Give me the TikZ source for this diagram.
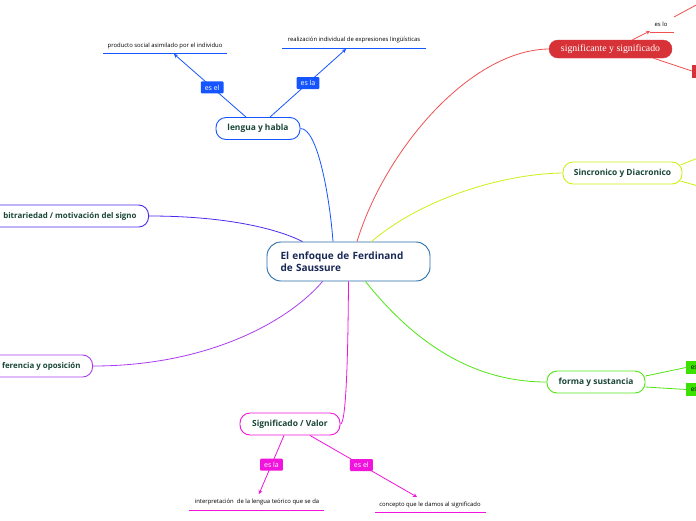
\documentclass[tikz,border=0pt]{standalone}
\usepackage{fontspec}
\setmainfont{Open Sans}
\newfontfamily\serifx{Liberation Serif}
\usetikzlibrary{arrows.meta,calc}
\definecolor{cblue}{RGB}{20,85,255}
\definecolor{cnavy}{RGB}{40,110,170}
\definecolor{ctext}{RGB}{25,70,55}
\definecolor{cnavytext}{RGB}{25,40,85}
\definecolor{cred}{RGB}{240,80,80}
\definecolor{credfill}{RGB}{215,50,55}
\definecolor{cyel}{RGB}{205,240,20}
\definecolor{cpurp}{RGB}{80,40,240}
\definecolor{cviol}{RGB}{170,60,240}
\definecolor{cgreen}{RGB}{80,230,20}
\definecolor{cgreenbox}{RGB}{60,225,0}
\definecolor{cmag}{RGB}{240,20,220}
\tikzset{
  topic/.style={draw, line width=0.9pt, rounded corners=10pt, fill=white, text=ctext,
    font=\bfseries\fontsize{8.4}{10}\selectfont, minimum height=22pt, inner xsep=6pt},
  lbl/.style={fill=#1, text=white, rounded corners=1pt, font=\fontsize{7}{8}\selectfont,
    inner xsep=4pt, inner ysep=1.5pt, minimum height=12pt},
  leaf/.style={font=\fontsize{5.9}{7}\selectfont, text=black, inner sep=1pt},
  conn/.style={line width=0.8pt},
  arr/.style={line width=0.8pt, -{Stealth[length=4pt,width=4pt]}},
}
\begin{document}
\begin{tikzpicture}[x=1pt,y=-1pt]
\useasboundingbox (0,0) rectangle (696,520);
\fill[white] (0,0) rectangle (696,520);

% center
\node[draw=cnavy, line width=0.9pt, rounded corners=14pt, minimum width=163pt, minimum height=39pt,
  text=cnavytext, font=\bfseries\fontsize{10}{12.5}\selectfont, align=left, text width=136pt] (c) at (348.5,261.5)
  {El enfoque de Ferdinand\\de Saussure};

% topics
\node[topic, draw=cblue, minimum width=84pt] (lh) at (258,128.5) {lengua y habla};
\node[fill=credfill, draw=credfill, rounded corners=9pt, minimum width=123pt, minimum height=18pt,
  text=white, font=\serifx\fontsize{9.8}{11}\selectfont] (ss) at (610.5,49) {significante y significado};
\node[topic, draw=cyel, minimum width=119pt] (sd) at (622.5,173) {Sincronico y Diacronico};
\node[topic, draw=cpurp, anchor=east, inner xsep=12pt, font=\bfseries\fontsize{7.9}{10}\selectfont] (am) at (149,216) {\hspace*{14pt}bitrariedad / motivación del signo};
\node[topic, draw=cviol, anchor=east, inner xsep=12pt, font=\bfseries\fontsize{7.9}{10}\selectfont] (dy) at (93,366) {\hspace*{14pt}ferencia y oposición};
\node[topic, draw=cgreen, minimum width=98pt] (fs) at (596,382) {forma y sustancia};
\node[topic, draw=cmag, minimum width=100pt] (sv) at (290,424) {Significado / Valor};

% main connectors
\coordinate (cb) at ($(c.north)+(-15.5,0)$);
\draw[conn, cblue] (lh.east) .. controls (318,128) and (330,200) .. (cb);
\coordinate (cr) at ($(c.north)+(8.5,0)$);
\draw[conn, cred] (cr) .. controls (385,150) and (470,50) .. (ss.west);
\coordinate (cy) at ($(c.north)+(23,0)$);
\draw[conn, cyel] (cy) .. controls (420,200) and (500,174) .. (sd.west);
\coordinate (cp) at ($(c.north)+(-46,0)$);
\draw[conn, cpurp] (am.east) .. controls (230,216) and (280,230) .. (cp);
\coordinate (cv) at ($(c.south)+(-26,0)$);
\draw[conn, cviol] (dy.east) .. controls (210,366) and (290,320) .. (cv);
\coordinate (cg) at ($(c.south)+(17,0)$);
\draw[conn, cgreen] (cg) .. controls (420,350) and (480,382) .. (fs.west);
\coordinate (cm) at ($(c.south)+(0,0)$);
\draw[conn, cmag] (cm) .. controls (348,360) and (346,424) .. (sv.east);

% lengua y habla children
\node[leaf] (t1) at (165,46) {producto social asimilado por el individuo};
\draw[cblue, line width=1pt] (103,53) -- (227,53);
\coordinate (a1) at (174,54);
\node[leaf] (t2) at (354,40) {realización individual de expresiones lingüísticas};
\draw[cblue, line width=1pt] (282,48) -- (426,48);
\coordinate (a2) at (346,49);
\coordinate (lh1) at ($(lh.north)+(-12,0)$);
\coordinate (lh2) at ($(lh.north)+(12,0)$);
\draw[arr, cblue] (lh1) -- node[lbl=cblue, pos=0.47] {es el} (a1);
\draw[arr, cblue] (lh2) -- node[lbl=cblue, pos=0.5] {es la} (a2);

% significante children
\node[leaf] (t3) at (661,24) {es lo};
\draw[cred, line width=1pt] (650,32) -- (674,32);
\coordinate (a3) at (650,31);
\coordinate (ss1) at ($(ss.north)+(22,0)$);
\draw[arr, cred] (ss1) -- (a3);
\coordinate (r1) at (674,17);
\coordinate (r2) at (698,4);
\draw[conn, cred] (r1) -- (r2);
\node[fill=credfill, minimum width=10pt, minimum height=13pt, inner sep=0pt] (rb) at (697,71) {};
\coordinate (ss2) at ($(ss.south)+(43,0)$);
\draw[conn, cred] (ss2) -- (rb.west);

% sincronico children
\coordinate (y1) at (698,158);
\coordinate (y2) at (698,186);
\draw[conn, cyel] ($(sd.east)+(-2,-8)$) -- (y1);
\draw[conn, cyel] ($(sd.east)+(-2,8)$) -- (y2);

% forma children
\node[fill=cgreenbox, minimum width=14pt, minimum height=13pt, inner sep=0pt, anchor=west,
  font=\fontsize{6.5}{7}\selectfont, text=black] (g1) at (686,367.5) {\hspace*{2pt}es};
\node[fill=cgreenbox, minimum width=14pt, minimum height=13pt, inner sep=0pt, anchor=west,
  font=\fontsize{6.5}{7}\selectfont, text=black] (g2) at (686,389.5) {\hspace*{2pt}es};
\draw[conn, cgreen] ($(fs.east)+(0,-6)$) -- (g1.west);
\draw[conn, cgreen] ($(fs.east)+(0,5)$) -- (g2.west);

% significado children
\node[leaf] (t4) at (257,502) {interpretación\ \ de la lengua teórico que se da};
\draw[cmag, line width=1pt] (189,510) -- (324,510);
\coordinate (a4) at (259,494);
\node[leaf] (t5) at (430,505) {concepto que le damos al significado};
\draw[cmag, line width=1pt] (375,512) -- (486,512);
\coordinate (a5) at (417,497);
\coordinate (sv1) at ($(sv.south)+(-6,0)$);
\coordinate (sv2) at ($(sv.south)+(20,0)$);
\draw[arr, cmag] (sv1) -- node[lbl=cmag, pos=0.5] {es la} (a4);
\draw[arr, cmag] (sv2) -- node[lbl=cmag, pos=0.48] {es el} (a5);
\end{tikzpicture}
\end{document}
